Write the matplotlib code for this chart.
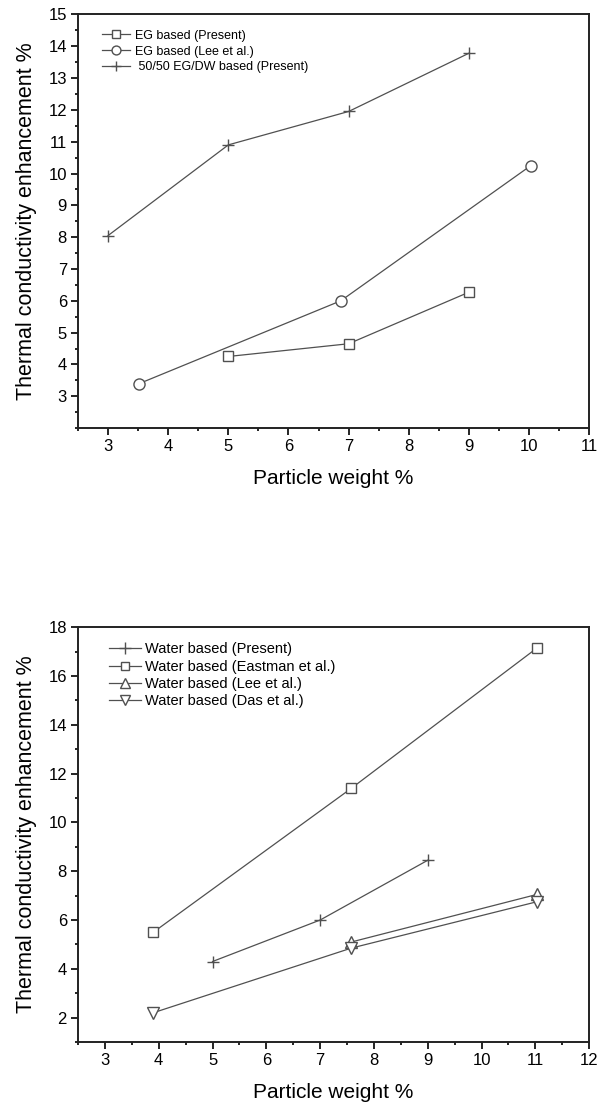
import matplotlib.pyplot as plt
from matplotlib.ticker import MultipleLocator

plt.rcParams['font.family'] = ['Liberation Sans', 'DejaVu Sans']

# top panel: EG based fluids
eg_present_x = [5, 7, 9]
eg_present_y = [4.25, 4.65, 6.27]
eg_lee_x = [3.52, 6.87, 10.03]
eg_lee_y = [3.4, 6.0, 10.25]
egdw_x = [3, 5, 7, 9]
egdw_y = [8.05, 10.9, 11.95, 13.78]

# bottom panel: water based fluids
w_present_x = [5, 7, 9]
w_present_y = [4.3, 6.0, 8.45]
w_eastman_x = [3.9, 7.58, 11.03]
w_eastman_y = [5.5, 11.4, 17.15]
w_lee_x = [7.58, 11.03]
w_lee_y = [5.1, 7.05]
w_das_x = [3.9, 7.58, 11.03]
w_das_y = [2.2, 4.85, 6.75]

lc = '#505050'
lw = 0.9

fig = plt.figure(figsize=(6, 11.09), dpi=100)
ax1 = fig.add_axes([0.13, 0.614, 0.852, 0.373])
ax2 = fig.add_axes([0.13, 0.0604, 0.852, 0.374])

def style(ax):
    ax.tick_params(which='both', direction='out', top=False, right=False, labelsize=12, width=1.2, pad=3)
    ax.tick_params(which='major', length=5)
    ax.tick_params(which='minor', length=2.5)
    for s in ax.spines.values():
        s.set_linewidth(1.4)
        s.set_color('#222222')
    ax.set_xlabel('Particle weight %', fontsize=15, labelpad=11)
    ax.set_ylabel('Thermal conductivity enhancement %', fontsize=15.5, labelpad=8)

ax1.plot(eg_present_x, eg_present_y, color=lc, lw=lw, marker='s', ms=6.5, mfc='white', mec=lc, label='EG based (Present)')
ax1.plot(eg_lee_x, eg_lee_y, color=lc, lw=lw, marker='o', ms=8, mfc='white', mec=lc, label='EG based (Lee et al.)')
ax1.plot(egdw_x, egdw_y, color=lc, lw=lw, marker='+', ms=9, mec=lc, label=' 50/50 EG/DW based (Present)')
ax1.set_xlim(2.5, 11)
ax1.set_ylim(2, 15)
ax1.xaxis.set_major_locator(MultipleLocator(1))
ax1.xaxis.set_minor_locator(MultipleLocator(0.5))
ax1.set_yticks([3, 4, 5, 6, 7, 8, 9, 10, 11, 12, 13, 14, 15])
ax1.yaxis.set_minor_locator(MultipleLocator(0.5))
style(ax1)
ax1.legend(loc='upper left', frameon=False, fontsize=9, handlelength=2.2, handletextpad=0.4,
           labelspacing=0.3, bbox_to_anchor=(0.025, 0.99), markerscale=0.8)

ax2.plot(w_present_x, w_present_y, color=lc, lw=lw, marker='+', ms=9, mec=lc, label='Water based (Present)')
ax2.plot(w_eastman_x, w_eastman_y, color=lc, lw=lw, marker='s', ms=7, mfc='white', mec=lc, label='Water based (Eastman et al.)')
ax2.plot(w_lee_x, w_lee_y, color=lc, lw=lw, marker='^', ms=8, mfc='white', mec=lc, label='Water based (Lee et al.)')
ax2.plot(w_das_x, w_das_y, color=lc, lw=lw, marker='v', ms=8, mfc='white', mec=lc, label='Water based (Das et al.)')
ax2.set_xlim(2.5, 12)
ax2.set_ylim(1, 18)
ax2.xaxis.set_major_locator(MultipleLocator(1))
ax2.xaxis.set_minor_locator(MultipleLocator(0.5))
ax2.set_yticks([2, 4, 6, 8, 10, 12, 14, 16, 18])
ax2.yaxis.set_minor_locator(MultipleLocator(1))
style(ax2)
ax2.legend(loc='upper left', frameon=False, fontsize=10.5, handlelength=2.2, handletextpad=0.3,
           labelspacing=0.22, bbox_to_anchor=(0.035, 0.995), markerscale=0.9)

fig.savefig('out.png', dpi=100)
